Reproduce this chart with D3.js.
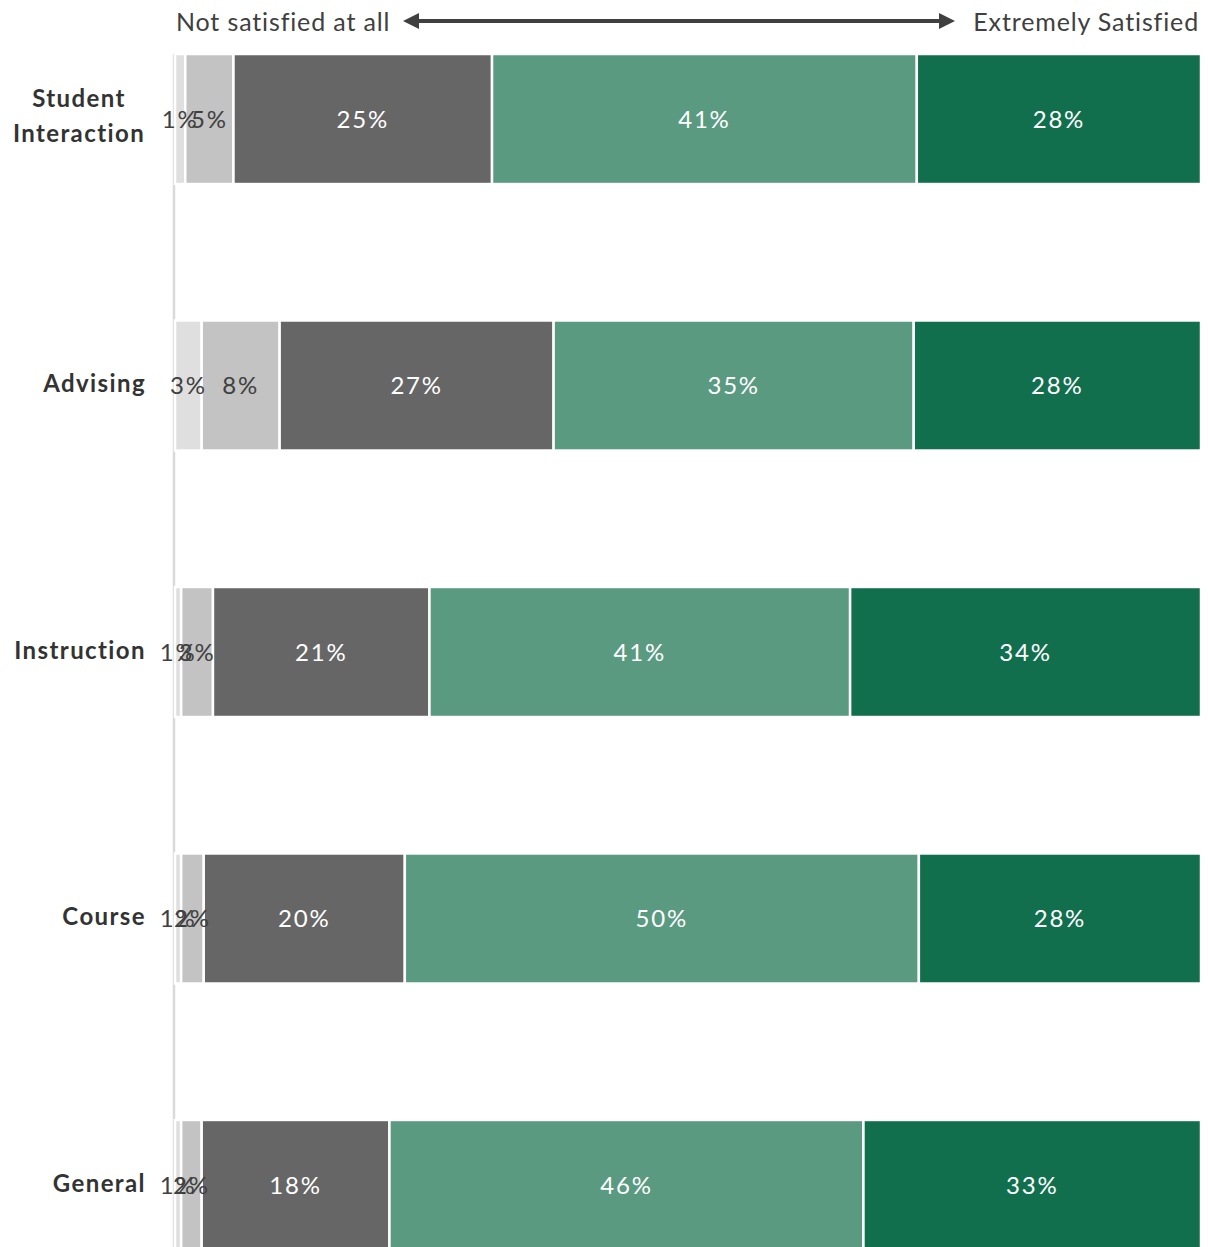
<!DOCTYPE html>
<html><head><meta charset="utf-8">
<script src="https://cdn.jsdelivr.net/npm/d3@7"></script>
<style>body{margin:0;background:#fff;overflow:hidden}</style>
</head><body>
<svg id="c" width="1208" height="1247"></svg>
<script>
const categories = ["Student Interaction","Advising","Instruction","Course","General"];
const levels = ["Not satisfied at all","Slightly satisfied","Moderately satisfied","Very satisfied","Extremely Satisfied"];
const level1 = [1.0, 2.6, 0.6, 0.6, 0.6];
const level2 = [4.7, 7.6, 3.1, 2.2, 2.0];
const level3 = [25.2, 26.7, 21.1, 19.6, 18.3];
const level4 = [41.4, 35.1, 41.0, 50.1, 46.2];
const level5 = [27.7, 28.0, 34.2, 27.5, 32.9];
const colors = ["#dfdfdf","#c3c3c3","#666666","#599a80","#126f4d"];
const labelColors = ["#404040","#404040","#ffffff","#ffffff","#ffffff"];

const series = [level1, level2, level3, level4, level5];
const rows = categories.map((c,i)=>{const o={cat:c}; levels.forEach((l,j)=>o[l]=series[j][i]); return o;});
const stack = d3.stack().keys(levels)(rows);

const svg = d3.select("#c");
const x = d3.scaleLinear().domain([0,100]).range([175,1201]);
const y = d3.scaleBand().domain(categories).range([54,1250]).paddingInner(0.512).paddingOuter(0);
const FONT = "Lato, 'Open Sans', sans-serif";

// axis line
const ax = svg.append("g").attr("transform","translate(174,0)").call(d3.axisLeft(y).tickSize(0).tickFormat(""));
ax.select(".domain").attr("stroke","#d9d9d9").attr("stroke-width",2.5).attr("d","M0,54V1250");

stack.forEach((s,j)=>{
  svg.append("g").selectAll("rect").data(s).join("rect")
    .attr("x",d=>x(d[0])).attr("width",d=>x(d[1])-x(d[0]))
    .attr("y",d=>y(d.data.cat)).attr("height",y.bandwidth())
    .attr("fill",colors[j]).attr("stroke","#fff").attr("stroke-width",2.5);
});
stack.forEach((s,j)=>{
  svg.append("g").selectAll("text").data(s).join("text")
    .attr("x",d=>(x(d[0])+x(d[1]))/2).attr("y",d=>y(d.data.cat)+y.bandwidth()/2)
    .attr("dy","0.36em").attr("text-anchor","middle")
    .attr("font-family",FONT).attr("font-size",24).attr("letter-spacing",1.8)
    .attr("fill",labelColors[j])
    .text(d=>Math.round(d.data[s.key])+"%");
});

// category labels
const cl = svg.append("g").selectAll("text").data(categories).join("text")
  .attr("font-family",FONT).attr("font-weight","bold").attr("font-size",24).attr("fill","#333")
  .attr("letter-spacing",1.4);
cl.each(function(d){
  const t=d3.select(this), words=d.split(" "), cy=y(d)+y.bandwidth()/2;
  if(words.length>1){
    t.attr("text-anchor","middle");
    t.append("tspan").attr("x",79).attr("y",cy-21).attr("dy","0.36em").text(words[0]);
    t.append("tspan").attr("x",79).attr("y",cy+14).attr("dy","0.36em").text(words[1]);
  } else {
    t.attr("text-anchor","end");
    t.append("tspan").attr("x",146).attr("y",cy-2).attr("dy","0.36em").text(d);
  }
});

// header
svg.append("text").attr("x",176).attr("y",22).attr("dy","0.36em")
  .attr("font-family",FONT).attr("font-size",25).attr("fill","#404040").attr("letter-spacing",0.86).text(levels[0]);
svg.append("text").attr("x",1199).attr("y",22).attr("dy","0.36em").attr("text-anchor","end")
  .attr("font-family",FONT).attr("font-size",25).attr("fill","#404040").attr("letter-spacing",0.86).text(levels[4]);
const defs = svg.append("defs");
["s","e"].forEach(id=>{
  defs.append("marker").attr("id","m"+id).attr("viewBox","0 0 10 10").attr("refX",0).attr("refY",5)
    .attr("markerWidth",4).attr("markerHeight",4).attr("orient","auto-start-reverse").attr("markerUnits","strokeWidth")
    .append("path").attr("d","M0,0L10,5L0,10Z").attr("fill","#404040");
});
svg.append("line").attr("x1",419).attr("x2",939).attr("y1",21).attr("y2",21)
  .attr("stroke","#404040").attr("stroke-width",4)
  .attr("marker-start","url(#ms)").attr("marker-end","url(#me)");
</script>
</body></html>
